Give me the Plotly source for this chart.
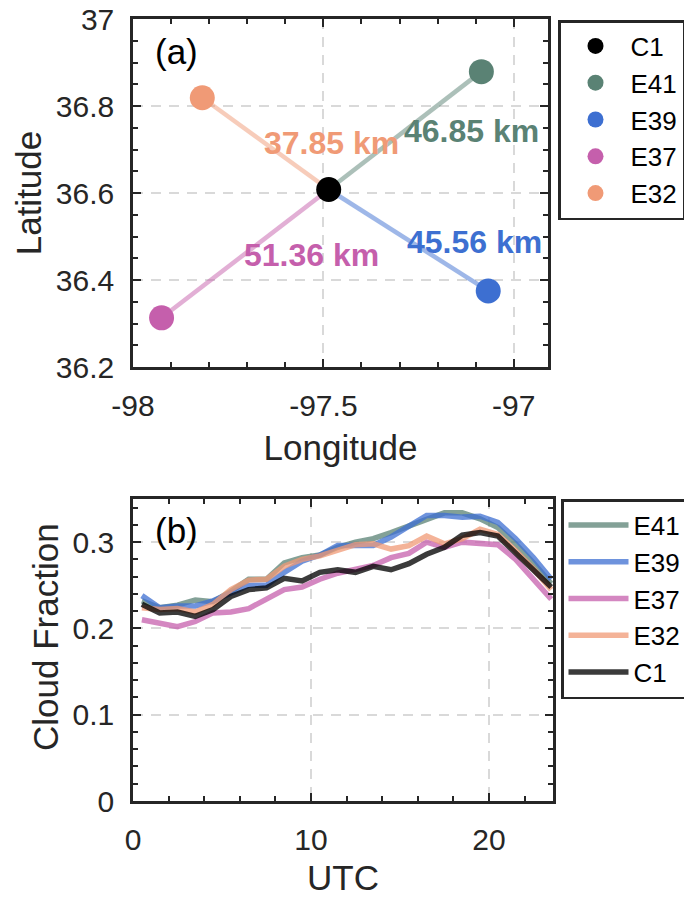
import plotly.graph_objects as go

# ---------------- data ----------------
stations = ["C1", "E41", "E39", "E37", "E32"]
station_lon = [-97.486, -97.085, -97.067, -97.925, -97.818]
station_lat = [36.608, 36.879, 36.375, 36.313, 36.819]
distance_text = ["", "46.85 km", "45.56 km", "51.36 km", "37.85 km"]
label_lon = [None, -97.110, -97.102, -97.530, -97.478]
label_lat = [None, 36.743, 36.487, 36.457, 36.715]

lon_ticks = [-98, -97.5, -97]
lon_tick_text = ["-98", "-97.5", "-97"]
lat_ticks = [36.2, 36.4, 36.6, 36.8, 37]
lat_tick_text = ["36.2", "36.4", "36.6", "36.8", "37"]

utc = [0.5, 1.5, 2.5, 3.5, 4.5, 5.5, 6.5, 7.5, 8.5, 9.5, 10.5, 11.5,
       12.5, 13.5, 14.5, 15.5, 16.5, 17.5, 18.5, 19.5, 20.5, 21.5, 22.5, 23.5]
cf_E41 = [0.232, 0.224, 0.227, 0.233, 0.231, 0.243, 0.257, 0.257, 0.276, 0.282, 0.285, 0.294,
          0.300, 0.304, 0.311, 0.319, 0.327, 0.334, 0.334, 0.327, 0.317, 0.298, 0.276, 0.252]
cf_E39 = [0.238, 0.224, 0.226, 0.226, 0.232, 0.241, 0.250, 0.250, 0.265, 0.278, 0.285, 0.296,
          0.296, 0.296, 0.306, 0.319, 0.331, 0.331, 0.329, 0.330, 0.323, 0.304, 0.282, 0.257]
cf_E37 = [0.210, 0.206, 0.202, 0.208, 0.218, 0.219, 0.223, 0.234, 0.245, 0.248, 0.257, 0.264,
          0.268, 0.273, 0.282, 0.287, 0.300, 0.294, 0.300, 0.298, 0.297, 0.280, 0.257, 0.234]
cf_E32 = [0.224, 0.222, 0.223, 0.219, 0.228, 0.245, 0.256, 0.257, 0.272, 0.280, 0.284, 0.291,
          0.297, 0.298, 0.292, 0.296, 0.307, 0.298, 0.304, 0.315, 0.309, 0.290, 0.269, 0.245]
cf_C1 = [0.228, 0.218, 0.219, 0.214, 0.222, 0.237, 0.245, 0.247, 0.258, 0.255, 0.265, 0.268,
         0.265, 0.272, 0.268, 0.275, 0.286, 0.294, 0.308, 0.311, 0.307, 0.288, 0.267, 0.248]
cf_ticks = [0, 0.1, 0.2, 0.3]
cf_tick_text = ["0", "0.1", "0.2", "0.3"]
utc_ticks = [0, 10, 20]

# ---------------- style ----------------
colors = {"C1": "#000000", "E41": "#5a8274", "E39": "#3d6fd1",
          "E37": "#c55fac", "E32": "#f09a76"}
FONT = "Liberation Sans, Arial, sans-serif"
AX = "#262626"
W, H = 684, 897


def rgba(hex_color, a):
    h = hex_color.lstrip("#")
    r, g, b = int(h[0:2], 16), int(h[2:4], 16), int(h[4:6], 16)
    return f"rgba({r},{g},{b},{a})"


fig = go.Figure()

# panel (a): connecting lines
for i in range(1, len(stations)):
    s = stations[i]
    fig.add_trace(go.Scatter(
        x=[station_lon[0], station_lon[i]], y=[station_lat[0], station_lat[i]],
        mode="lines", line=dict(color=rgba(colors[s], 0.5), width=4.5),
        showlegend=False, hoverinfo="skip", xaxis="x", yaxis="y"))

# panel (a): markers (legend order C1, E41, E39, E37, E32)
for i, s in enumerate(stations):
    fig.add_trace(go.Scatter(
        x=[station_lon[i]], y=[station_lat[i]], mode="markers", name=s,
        marker=dict(color=colors[s], size=25, line=dict(width=0)),
        legend="legend", xaxis="x", yaxis="y"))

# panel (a): distance labels
for i in range(1, len(stations)):
    s = stations[i]
    fig.add_annotation(x=label_lon[i], y=label_lat[i], xref="x", yref="y",
                       text=f"<b>{distance_text[i]}</b>", showarrow=False,
                       font=dict(family=FONT, size=32, color=colors[s]))

# panel (b): cloud fraction lines
series_b = [("E41", cf_E41), ("E39", cf_E39), ("E37", cf_E37), ("E32", cf_E32), ("C1", cf_C1)]
for s, vals in series_b:
    a = 0.77 if s == "C1" else 0.75
    fig.add_trace(go.Scatter(
        x=utc, y=vals, mode="lines", name=s,
        line=dict(color=rgba(colors[s], a), width=5.5),
        legend="legend2", xaxis="x2", yaxis="y2"))

common_axis = dict(
    showline=True, linewidth=2.5, linecolor=AX, mirror="ticks",
    ticks="inside", ticklen=8, tickwidth=2, tickcolor=AX,
    showgrid=True, gridcolor="#d9d9d9", gridwidth=2, griddash="10px,8px",
    zeroline=False, tickfont=dict(family=FONT, size=30, color=AX),
    ticklabelstandoff=10,
)
title_font = dict(family=FONT, size=35, color=AX)

fig.update_layout(
    width=W, height=H,
    margin=dict(l=0, r=0, t=0, b=0, autoexpand=False),
    paper_bgcolor="white", plot_bgcolor="white",
    font=dict(family=FONT, color=AX),
    xaxis=dict(domain=[133 / W, 548 / W], range=[-98, -96.91], anchor="y",
               tickvals=lon_ticks, ticktext=lon_tick_text,
               minor=dict(dtick=0.1, tick0=-98, ticks="inside", ticklen=5, tickwidth=2,
                          tickcolor=AX, showgrid=False),
               title=dict(text="Longitude", font=title_font, standoff=15),
               **common_axis),
    yaxis=dict(domain=[1 - 367 / H, 1 - 19 / H], range=[36.2, 37], anchor="x",
               tickvals=lat_ticks, ticktext=lat_tick_text,
               minor=dict(dtick=0.05, tick0=36.2, ticks="inside", ticklen=5, tickwidth=2,
                          tickcolor=AX, showgrid=False),
               title=dict(text="Latitude", font=title_font, standoff=4),
               **common_axis),
    xaxis2=dict(domain=[133 / W, 553 / W], range=[0, 23.6], anchor="y2",
                tickvals=utc_ticks,
                minor=dict(dtick=2, tick0=0, ticks="inside", ticklen=5, tickwidth=2,
                           tickcolor=AX, showgrid=False),
                title=dict(text="UTC", font=title_font, standoff=17),
                **common_axis),
    yaxis2=dict(domain=[1 - 801 / H, 1 - 499 / H], range=[0, 0.35], anchor="x2",
                tickvals=cf_ticks, ticktext=cf_tick_text,
                minor=dict(dtick=0.02, tick0=0, ticks="inside", ticklen=5, tickwidth=2,
                           tickcolor=AX, showgrid=False),
                **common_axis),
    legend=dict(x=558 / W, y=1 - 20 / H, xanchor="left", yanchor="top",
                bordercolor=AX, borderwidth=2.5, bgcolor="white",
                font=dict(family=FONT, size=26, color="#000"), tracegroupgap=0,
                itemwidth=60),
    legend2=dict(x=561 / W, y=1 - 499 / H, xanchor="left", yanchor="top",
                 bordercolor=AX, borderwidth=2.5, bgcolor="white",
                 font=dict(family=FONT, size=26, color="#000"), tracegroupgap=0,
                 itemwidth=60),
)

# y title of panel (b), placed as in the reference (slightly above axis centre)
fig.add_annotation(x=45 / W, y=1 - 637 / H, xref="paper", yref="paper",
                   xanchor="center", yanchor="middle", textangle=-90,
                   text="Cloud Fraction", showarrow=False, font=title_font)

fig.add_annotation(x=0.048, y=0.908, xref="x domain", yref="y domain", xanchor="left",
                   yanchor="middle", text="(a)", showarrow=False,
                   font=dict(family=FONT, size=35, color="#000"))
fig.add_annotation(x=0.048, y=0.897, xref="x2 domain", yref="y2 domain", xanchor="left",
                   yanchor="middle", text="(b)", showarrow=False,
                   font=dict(family=FONT, size=35, color="#000"))

fig.write_html("out.html", config={"displayModeBar": False},
               post_script="document.body.style.margin='0px';")
